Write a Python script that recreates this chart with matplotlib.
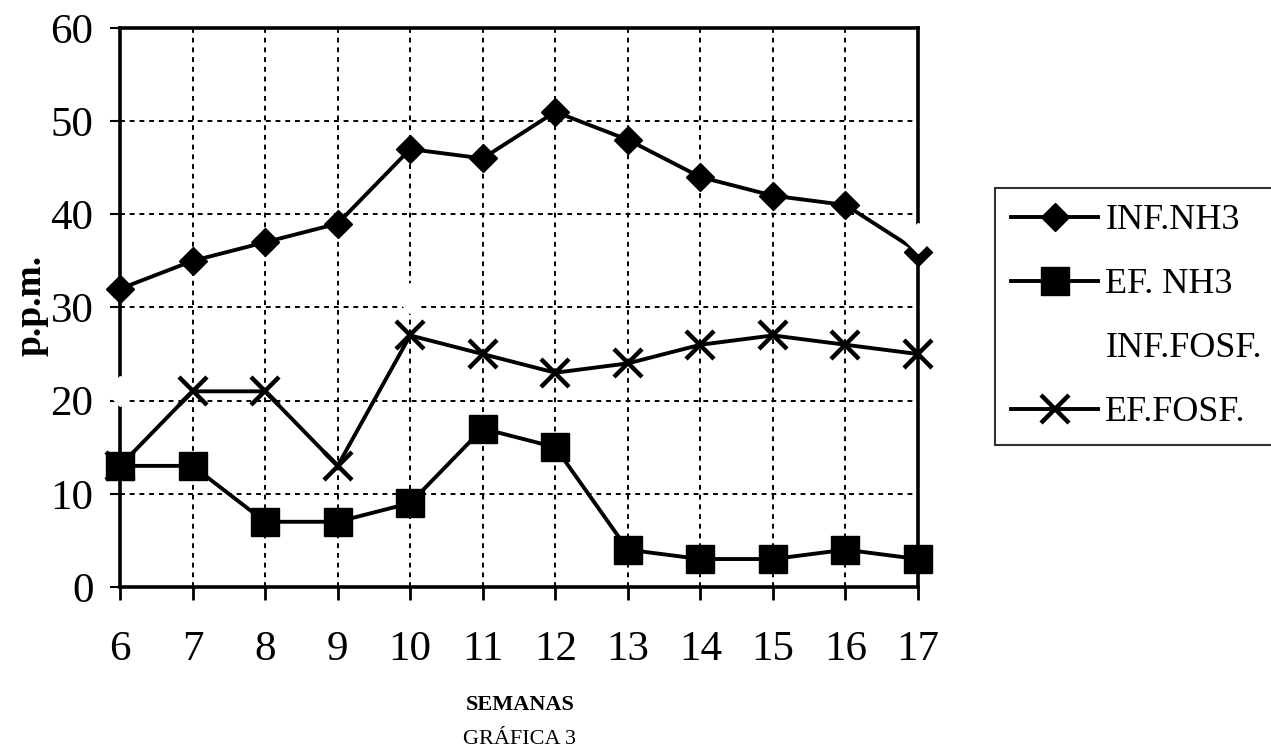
import numpy as np
import matplotlib
matplotlib.use("Agg")
import matplotlib.pyplot as plt

# ---- datos ----
semanas = [6, 7, 8, 9, 10, 11, 12, 13, 14, 15, 16, 17]
inf_nh3 = [32, 35, 37, 39, 47, 46, 51, 48, 44, 42, 41, 36]
ef_nh3 = [13, 13, 7, 7, 9, 17, 15, 4, 3, 3, 4, 3]
# serie impresa en blanco: solo se distinguen algunos puntos
inf_fosf = [21, np.nan, np.nan, np.nan, 31, np.nan, np.nan, np.nan, np.nan, np.nan, np.nan, 37.5]
ef_fosf = [13, 21, 21, 13, 27, 25, 23, 24, 26, 27, 26, 25]
yticks = [0, 10, 20, 30, 40, 50, 60]

plt.rcParams["font.family"] = ["Liberation Serif", "DejaVu Serif"]

fig = plt.figure(figsize=(12.71, 7.54), dpi=100)
ax = fig.add_axes([0.0944, 0.2215, 0.6279, 0.7414])

ax.plot(semanas, inf_nh3, color="black", lw=2.8, marker="D", ms=14,
        label="INF.NH3", zorder=4, clip_on=False)
ax.plot(semanas, ef_nh3, color="black", lw=2.8, marker="s", ms=20,
        label="EF. NH3", zorder=4, clip_on=False)
ax.plot(semanas, inf_fosf, color="white", lw=2.8, marker="D", ms=15,
        mfc="white", mec="white", label="INF.FOSF.", zorder=5, clip_on=False)
ax.plot(semanas, ef_fosf, color="black", lw=2.8, marker="x", ms=20, mew=3.2,
        label="EF.FOSF.", zorder=4, clip_on=False)

ax.set_xlim(6, 17)
ax.set_ylim(0, 60)
ax.set_xticks(semanas)
ax.set_yticks(yticks)
ax.grid(True, color="black", lw=1.4, linestyle=(0, (2.5, 2.5)))
ax.set_axisbelow(True)
for s in ax.spines.values():
    s.set_linewidth(2.6)
    s.set_zorder(3)
ax.tick_params(axis="x", direction="out", length=9, width=2, labelsize=31, pad=22)
ax.tick_params(axis="y", direction="out", length=7, width=1.5, labelsize=31, pad=12)

fig.text(0.024, 0.595, "p.p.m.", rotation=90, fontsize=27, fontweight="bold",
         ha="center", va="center")
fig.text(0.409, 0.065, "SEMANAS", fontsize=16, fontweight="bold", ha="center", va="center")
fig.text(0.409, 0.019, "GRÁFICA 3", fontsize=16, ha="center", va="center")

leg = ax.legend(loc="upper left", bbox_to_anchor=(0.783, 0.751),
                bbox_transform=fig.transFigure, borderaxespad=0, fontsize=26,
                frameon=True, fancybox=False, edgecolor="black",
                handlelength=2.4, handletextpad=0.2, labelspacing=0.85,
                borderpad=0.45)
leg.get_frame().set_linewidth(1.5)

fig.savefig("out.png", dpi=100)
